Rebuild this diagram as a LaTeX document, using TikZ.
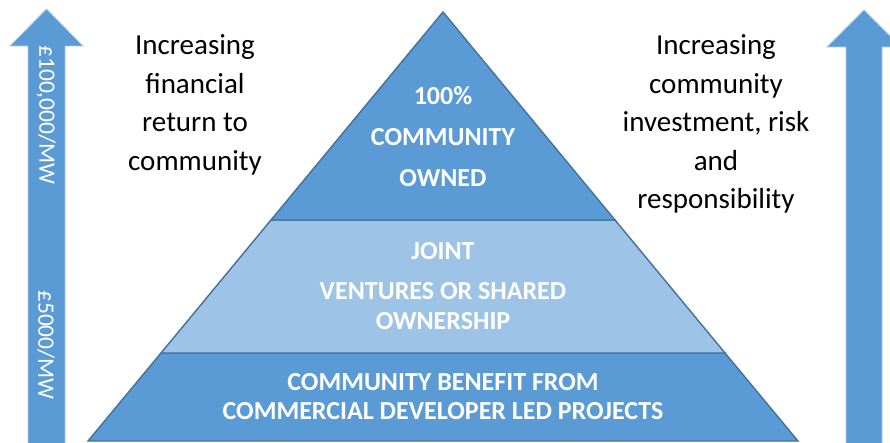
\documentclass[tikz,border=0pt]{standalone}
\usepackage{fontspec}
\setmainfont{Carlito}
\definecolor{tierblue}{HTML}{5B9BD5}
\definecolor{tierlight}{HTML}{9DC3E6}
\definecolor{edgeblue}{HTML}{41719C}
\definecolor{arrowedge}{HTML}{A9C8E8}
\begin{document}
\begin{tikzpicture}[x=1pt,y=-1pt,
  tier/.style={draw=edgeblue, line width=1.4pt, line join=miter},
  bigarrow/.style={fill=tierblue, draw=arrowedge, line width=0.8pt},
  tiertext/.style={text=white, font=\fontsize{26}{30}\selectfont\bfseries, anchor=base, inner sep=0pt},
  sidetext/.style={text=black, font=\fontsize{29}{38}\selectfont, anchor=base, inner sep=0pt},
  arrowtext/.style={text=white, font=\fontsize{23.5}{28}\selectfont, rotate=-90, inner sep=0pt}]
\clip (0,0) rectangle (890,443);
\fill[white] (0,0) rectangle (890,443);

% upward arrows on both sides
\path[bigarrow] (46.5,9) -- (83,46) -- (65,46) -- (65,450) -- (28,450) -- (28,46) -- (10,46) -- cycle;
\path[bigarrow] (864,10) -- (901,47) -- (882,47) -- (882,450) -- (846,450) -- (846,47) -- (827,47) -- cycle;
\node[arrowtext] (high) at (46,115) {£100,000/MW};
\node[arrowtext] (low) at (46,345) {£5000/MW};

% pyramid tiers, bottom to top
\path[tier, fill=tierblue] (161,353) -- (725,353) -- (798,441) -- (88,441) -- cycle;
\path[tier, fill=tierlight] (271,220) -- (615,220) -- (725,353) -- (161,353) -- cycle;
\path[tier, fill=tierblue] (443,12) -- (615,220) -- (271,220) -- cycle;

% top tier
\node[tiertext] (t1) at (443,105) {100\%};
\node[tiertext] (t2) at (443,146) {COMMUNITY};
\node[tiertext] (t3) at (443,187) {OWNED};
% middle tier
\node[tiertext] (m1) at (443,259) {JOINT};
\node[tiertext] (m2) at (443,299) {VENTURES OR SHARED};
\node[tiertext] (m3) at (443,329) {OWNERSHIP};
% base tier
\node[tiertext] (b1) at (443,390) {COMMUNITY BENEFIT FROM};
\node[tiertext] (b2) at (443,419) {COMMERCIAL DEVELOPER LED PROJECTS};

% side captions
\node[sidetext] (l1) at (195,55) {Increasing};
\node[sidetext] (l2) at (195,93.5) {financial};
\node[sidetext] (l3) at (195,132) {return to};
\node[sidetext] (l4) at (195,170.5) {community};
\node[sidetext] (r1) at (716,55) {Increasing};
\node[sidetext] (r2) at (716,93.5) {community};
\node[sidetext] (r3) at (716,132) {investment, risk};
\node[sidetext] (r4) at (716,170.5) {and};
\node[sidetext] (r5) at (716,209) {responsibility};
\end{tikzpicture}
\end{document}
